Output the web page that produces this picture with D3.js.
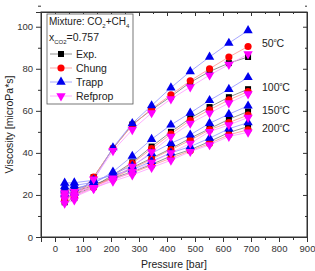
<!DOCTYPE html>
<html>
<head>
<meta charset="utf-8">
<script src="https://cdn.jsdelivr.net/npm/d3@7"></script>
<style>
  body { margin: 0; background: #fff; }
  text { font-family: Arial, "Liberation Sans", sans-serif; }
</style>
</head>
<body>
<div id="container"></div>
<script>
let w = 315;
let h = 271;

// pressures in bar (500 psi steps)
let pressures = [34.5, 69, 138, 207, 276, 345, 414, 483, 552, 621, 689.5];
let temps = ["50", "100", "150", "200"];

// viscosity values, one row per temperature
let expVals = [
  [16.5, 18.5, 28.5, 42, 53.5, 60.5, 66.8, 73.5, 78.7, 82.7, 85.6],
  [19, 20, 24, 29.5, 35.5, 43, 50, 56.5, 61.8, 66.5, 70.3],
  [21, 21.5, 24.5, 28.5, 33, 37.5, 42, 47, 51.5, 56, 59.7],
  [22.5, 23, 25, 28, 31, 34.5, 38.5, 41.5, 45.4, 49.7, 52.5]
];
let chungVals = [
  [17, 19, 28.5, 42.2, 53, 61, 67.6, 74.3, 80, 85.6, 90.6],
  [18.5, 19.5, 23.5, 29, 35, 42, 49, 55.5, 60.5, 65.2, 69.2],
  [20.5, 21, 24, 28, 32.5, 37, 41.5, 46, 51, 54.4, 58],
  [22, 22.5, 24.5, 27.5, 30.5, 34, 37.5, 41, 44.5, 48.6, 51]
];
let trappVals = [
  [20.5, 21, 27, 42.5, 54, 62.5, 71, 78.7, 85.6, 92.2, 98.2],
  [22.5, 23, 25.5, 31, 38.5, 46.5, 53.3, 59, 65, 70.3, 75.9],
  [24, 24.5, 26, 30, 33.8, 39.8, 44.6, 48.6, 54.1, 58.4, 62.4],
  [25.7, 25.8, 27, 29.5, 32, 36, 40, 43, 47, 51.5, 54.4]
];
let refpropVals = [
  [16, 17.5, 27.5, 41, 51, 59, 65.6, 71.3, 77, 82, 87],
  [18, 19, 23, 28, 33.5, 40.5, 47.8, 54, 58.9, 63.7, 68],
  [19.5, 20, 23, 27, 31, 35.5, 40, 44.5, 50.1, 53.3, 56.8],
  [21, 21.5, 23.5, 26.5, 29.5, 33, 36.5, 40.6, 43.8, 47.8, 49.8]
];

let xTicks = [0, 100, 200, 300, 400, 500, 600, 700, 800, 900];
let yTicks = [0, 20, 40, 60, 80, 100];

// series styling
let series = [
  {name: "Exp.", vals: expVals, symbol: d3.symbolSquare, size: 36, fill: "#000000", line: "#777777"},
  {name: "Chung", vals: chungVals, symbol: d3.symbolCircle, size: 40, fill: "#ff0000", line: "#ff9090"},
  {name: "Trapp", vals: trappVals, symbol: d3.symbolTriangle, size: 38, fill: "#0000ee", line: "#8f8fff"},
  {name: "Refprop", vals: refpropVals, symbol: d3.symbolTriangle, size: 38, fill: "#ff00ff", line: "#ff9cff", flip: true}
];

let mLeft = 41, mRight = 307, mTop = 12, mBottom = 237;

let viz = d3.select("#container")
  .append("svg")
    .attr("width", w)
    .attr("height", h)
    .style("background-color", "white")
;

let xScale = d3.scaleLinear().domain([-50, 900]).range([mLeft, mRight]);
let yScale = d3.scaleLinear().domain([0, 107]).range([mBottom, mTop]);

let axisColor = "#333";

// bottom axis, outward ticks
let xAxis = d3.axisBottom(xScale).tickValues(xTicks).tickSize(5).tickPadding(3);
viz.append("g").attr("transform", "translate(0," + mBottom + ")").call(xAxis);
let xMinor = d3.axisBottom(xScale).tickValues(xTicks.map(d => d - 50)).tickSize(3).tickFormat("");
viz.append("g").attr("transform", "translate(0," + mBottom + ")").call(xMinor);

// left axis, outward ticks
let yAxis = d3.axisLeft(yScale).tickValues(yTicks).tickSize(5).tickPadding(3);
viz.append("g").attr("transform", "translate(" + mLeft + ",0)").call(yAxis);
let yMinor = d3.axisLeft(yScale).tickValues(yTicks.map(d => d + 10)).tickSize(3).tickFormat("");
viz.append("g").attr("transform", "translate(" + mLeft + ",0)").call(yMinor);

// top and right mirror axes, inward ticks
let xTop = d3.axisBottom(xScale).tickValues(xTicks).tickSize(4).tickFormat("");
viz.append("g").attr("transform", "translate(0," + mTop + ")").call(xTop);
let xTopMinor = d3.axisBottom(xScale).tickValues(xTicks.map(d => d - 50)).tickSize(2).tickFormat("");
viz.append("g").attr("transform", "translate(0," + mTop + ")").call(xTopMinor);
let yRight = d3.axisLeft(yScale).tickValues(yTicks).tickSize(4).tickFormat("");
viz.append("g").attr("transform", "translate(" + mRight + ",0)").call(yRight);
let yRightMinor = d3.axisLeft(yScale).tickValues(yTicks.map(d => d + 10)).tickSize(2).tickFormat("");
viz.append("g").attr("transform", "translate(" + mRight + ",0)").call(yRightMinor);

viz.selectAll(".domain").attr("stroke", axisColor);
viz.selectAll(".tick line").attr("stroke", axisColor);
viz.selectAll(".tick text").attr("font-size", 9.5).attr("fill", "#333")
  .attr("font-family", "Arial, 'Liberation Sans', sans-serif");

// frame
viz.append("rect")
  .attr("x", mLeft).attr("y", mTop)
  .attr("width", mRight - mLeft).attr("height", mBottom - mTop)
  .attr("fill", "none").attr("stroke", axisColor).attr("stroke-width", 1);

// lines first, then markers
let line = d3.line()
  .x((d, i) => xScale(pressures[i]))
  .y(d => yScale(d));

let plot = viz.append("g");
series.forEach(function(s){
  s.vals.forEach(function(row){
    plot.append("path")
      .attr("d", line(row))
      .attr("fill", "none")
      .attr("stroke", s.line)
      .attr("stroke-width", 0.8);
  });
});
series.forEach(function(s){
  let sym = d3.symbol().type(s.symbol).size(s.size);
  s.vals.forEach(function(row){
    plot.selectAll(null).data(row).enter()
      .append("path")
      .attr("d", sym)
      .attr("fill", s.fill)
      .attr("transform", function(d, i){
        return "translate(" + xScale(pressures[i]) + "," + yScale(d) + ")" + (s.flip ? " rotate(180)" : "");
      });
  });
});

// legend box
let lg = viz.append("g");
lg.append("rect")
  .attr("x", 47).attr("y", 14).attr("width", 86).attr("height", 90)
  .attr("fill", "white").attr("stroke", "#555").attr("stroke-width", 0.8);

let t1 = lg.append("text").attr("x", 49).attr("y", 25).attr("font-size", 10).attr("fill", "#222");
t1.append("tspan").text("Mixture: CO");
t1.append("tspan").text("2").attr("font-size", 6).attr("dy", 3);
t1.append("tspan").text("+CH").attr("dy", -3);
t1.append("tspan").text("4").attr("font-size", 6).attr("dy", 3);

let t2 = lg.append("text").attr("x", 49).attr("y", 41).attr("font-size", 10.5).attr("fill", "#222");
t2.append("tspan").text("x");
t2.append("tspan").text("CO2").attr("font-size", 6).attr("dy", 3);
t2.append("tspan").text("=0.757").attr("dy", -3);

series.forEach(function(s, i){
  let yy = 54 + i * 14;
  lg.append("line")
    .attr("x1", 50).attr("x2", 72).attr("y1", yy).attr("y2", yy)
    .attr("stroke", s.line).attr("stroke-width", 0.8);
  lg.append("path")
    .attr("d", d3.symbol().type(s.symbol).size(s.size))
    .attr("fill", s.fill)
    .attr("transform", "translate(61," + yy + ")" + (s.flip ? " rotate(180)" : ""));
  lg.append("text")
    .attr("x", 76).attr("y", yy + 4)
    .attr("font-size", 10.5).attr("fill", "#222")
    .text(s.name);
});

// temperature labels
let tempY = [43, 87, 110, 128];
temps.forEach(function(t, i){
  let tt = viz.append("text").attr("x", 262).attr("y", tempY[i] + 4).attr("font-size", 10.5).attr("fill", "#222");
  tt.append("tspan").text(t);
  tt.append("tspan").text("o").attr("font-size", 5).attr("dy", -5);
  tt.append("tspan").text("C").attr("dy", 5);
});

// axis titles
viz.append("text")
  .attr("x", 174).attr("y", 268)
  .attr("text-anchor", "middle").attr("font-size", 10.5).attr("fill", "#222")
  .text("Pressure [bar]");
viz.append("text")
  .attr("transform", "translate(13," + ((mTop + mBottom) / 2) + ") rotate(-90)")
  .attr("text-anchor", "middle").attr("font-size", 10.5).attr("fill", "#222")
  .text("Viscosity [microPa*s]");
</script>
</body>
</html>
